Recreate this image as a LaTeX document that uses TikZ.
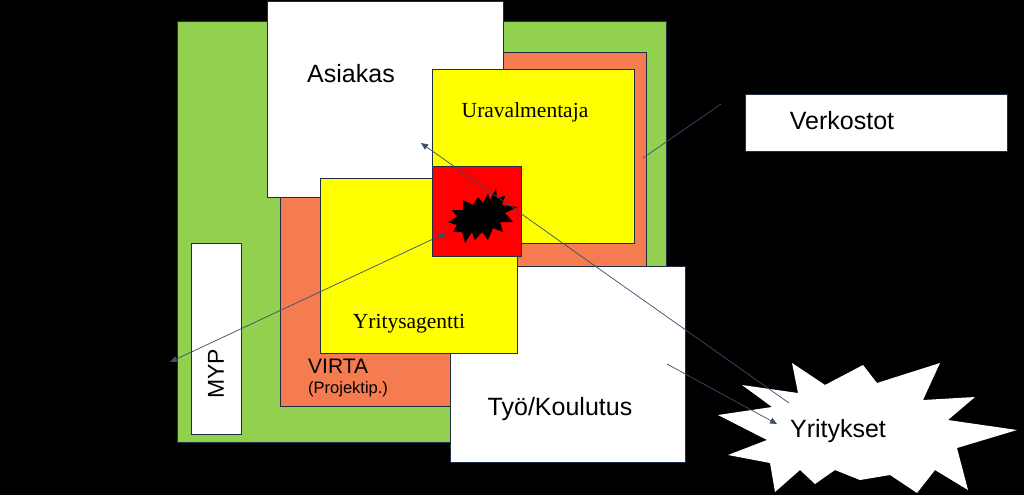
\documentclass[tikz,border=0pt]{standalone}
\usepackage{fontspec}
\setsansfont{Liberation Sans}
\newfontfamily\serifface{Liberation Serif}
\usetikzlibrary{arrows.meta}
\definecolor{leaf}{HTML}{92D050}
\definecolor{coral}{HTML}{F47C50}
\definecolor{lemon}{HTML}{FFFF00}
\definecolor{fire}{HTML}{FF0000}
\definecolor{edge}{HTML}{1F2E40}
\definecolor{wire}{HTML}{3A4E6C}

\begin{document}
\begin{tikzpicture}[x=1pt,y=-1pt,
  panel/.style={draw=edge,line width=0.8pt,inner sep=0pt},
  sans/.style={font=\sffamily\fontsize{25}{30}\selectfont,inner sep=0pt,anchor=base},
  ser/.style={font=\serifface\fontsize{21.5}{26}\selectfont,inner sep=0pt,anchor=base},
  arr/.style={-{Triangle[length=7pt,width=6pt]},line width=0.7pt,wire}]
\path[use as bounding box,fill=black] (0,0) rectangle (1024,495);
\node[panel,fill=leaf,minimum width=489pt,minimum height=421pt] (outer) at (421.5,231.5) {};
\node[panel,fill=coral,minimum width=366pt,minimum height=354pt] (virta) at (463,229) {};
\node[panel,fill=white,minimum width=236pt,minimum height=196pt] (asiakas) at (385,99) {};
\node[panel,fill=white,minimum width=235pt,minimum height=196pt] (tyo) at (567.5,364) {};
\node[panel,fill=lemon,minimum width=202pt,minimum height=174pt] (urava) at (533,156) {};
\node[panel,fill=lemon,minimum width=197pt,minimum height=175pt] (agentti) at (418.5,265.5) {};
\node[panel,fill=fire,minimum width=89pt,minimum height=90pt] (ydin) at (476.5,211) {};
\node[panel,fill=white,minimum width=50pt,minimum height=191pt] (myp) at (216,338.5) {};
\node[panel,fill=white,minimum width=262pt,minimum height=57pt] (verkostot) at (876,122.5) {};
\fill[black] (496,188) -- (497,198) -- (505,196) -- (502,205) -- (518,207) -- (505,213)
  -- (513,222) -- (500,222) -- (503,232) -- (493,228) -- (488,240) -- (482,232)
  -- (475,240) -- (472,232) -- (465,243) -- (462,232) -- (453,232) -- (457,225)
  -- (448,222) -- (457,217) -- (452,210) -- (463,210) -- (463,200) -- (473,205)
  -- (478,197) -- (483,203) -- (488,193) -- (490,200) -- cycle;
\fill[white] (742,385) -- (798,393) -- (792,363) -- (825,385) -- (863,365) -- (877,383)
  -- (940,363) -- (923,400) -- (975,397) -- (948,420) -- (1017,430) -- (957,448)
  -- (968,490) -- (935,470) -- (917,493) -- (890,475) -- (860,480) -- (835,470)
  -- (815,484) -- (800,470) -- (775,492) -- (770,463) -- (728,455) -- (767,440)
  -- (718,415) -- (772,407) -- cycle;
\node[sans] (asiakaslab) at (351,82) {Asiakas};
\node[ser] (uravalab) at (525,117) {Uravalmentaja};
\node[ser] (agenttilab) at (409,328) {Yritysagentti};
\node[sans] (tyolab) at (560,415) {Työ/Koulutus};
\node[sans] (verkostotlab) at (842,129) {Verkostot};
\node[sans] (yritykset) at (838,437) {Yritykset};
\node[sans,anchor=base west,font=\sffamily\fontsize{21}{25}\selectfont] (virtalab) at (308,373) {VIRTA};
\node[sans,anchor=base west,font=\sffamily\fontsize{16.5}{20}\selectfont] (projlab) at (308,393) {(Projektip.)};
\node[sans,anchor=center,rotate=90,font=\sffamily\fontsize{23}{28}\selectfont] (myplab) at (216,374) {MYP};
\coordinate (p1) at (789,403);
\coordinate (p2) at (421,143);
\coordinate (p3) at (667,364);
\coordinate (p4) at (777,424);
\coordinate (p5) at (721,104);
\coordinate (p6) at (643,158);
\coordinate (p7) at (446,233);
\coordinate (p8) at (170,362);
\draw[arr] (p1) -- (p2);
\draw[arr] (p3) -- (p4);
\draw[line width=0.7pt,wire] (p5) -- (p6);
\draw[arr,{Triangle[length=7pt,width=6pt]}-{Triangle[length=7pt,width=6pt]}] (p8) -- (p7);
\end{tikzpicture}
\end{document}
